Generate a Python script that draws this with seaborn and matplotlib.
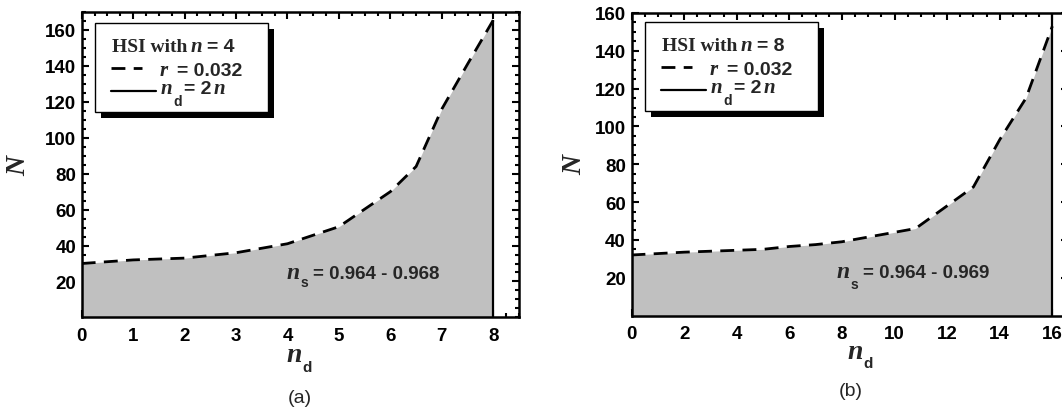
import matplotlib
matplotlib.use("Agg")
import matplotlib.pyplot as plt
import seaborn as sns
import pandas as pd
from matplotlib.ticker import MultipleLocator
from matplotlib.patches import Rectangle
from matplotlib.lines import Line2D

# ---------------- data ----------------
nd_a = [0, 1, 2, 3, 4, 5, 6, 6.5, 7, 7.5, 8]
N_a = [30, 32, 33, 36, 41, 50.5, 70, 84, 116, 141, 165.5]

nd_b = [0, 2, 4, 5, 6, 7, 8, 9, 10, 10.8, 12, 13, 14, 15, 16]
N_b = [32, 33.5, 34.5, 35, 36.5, 37.5, 39, 41.5, 44, 46, 58, 68, 93, 115, 153]

n_values = [4, 8]
r_value = "0.032"
ns_ranges = ["0.964 - 0.968", "0.964 - 0.969"]
panel_labels = ["(a)", "(b)"]
yticks = [20, 40, 60, 80, 100, 120, 140, 160]

# ---------------- style ----------------
sns.set_theme(style="ticks")
plt.rcParams.update({
    "font.family": ["Liberation Sans", "DejaVu Sans"],
    "font.weight": "bold",
    "font.size": 13,
    "axes.linewidth": 1.8,
    "axes.edgecolor": "black",
    "axes.facecolor": "white",
    "figure.facecolor": "white",
    "xtick.color": "black",
    "ytick.color": "black",
})

W, H = 1062, 410
fig = plt.figure(figsize=(W / 100, H / 100), dpi=100)


def fx(px):
    return px / W


def fy(py):
    return 1 - py / H


axL = fig.add_axes([fx(81.7), fy(318.4), 437.3 / W, 305.4 / H])
axR = fig.add_axes([fx(631.5), fy(316.5), 436.6 / W, 302.5 / H])

SANS = dict(family="Liberation Sans", weight="bold")
SERIF_B = dict(family="Liberation Serif", weight="bold")
SERIF_BI = dict(family="Liberation Serif", weight="bold", style="italic")

renderer = fig.canvas.get_renderer()


def rich(x, y, parts, ha="left"):
    """parts: (text, props, size, dy_px, gap_px); x,y in image pixels (baseline)."""
    items = []
    total = 0
    for s, props, size, dy, gap in parts:
        t = fig.text(0, 0, s, ha="left", va="baseline", fontsize=size,
                     zorder=8, **props)
        w = t.get_window_extent(renderer).width
        items.append((t, w, dy, gap))
        total += w + gap
    cur = x - total / 2 if ha == "center" else x
    for t, w, dy, gap in items:
        cur += gap
        t.set_position((fx(cur), fy(y + dy)))
        cur += w


panels = [
    dict(ax=axL, nd=nd_a, N=N_a, n=n_values[0], xlim=8.5, ylim=170,
         xmaj=1, xmin=0.25, vline_top=N_a[-1], ns=ns_ranges[0],
         box=(95, 24.3), ylab_x=19, ns_pos=(286.7, 279.3, 8),
         xlab=(299, 362, 10), plab=(300, 403)),
    dict(ax=axR, nd=nd_b, N=N_b, n=n_values[1], xlim=16.6, ylim=160,
         xmaj=2, xmin=0.5, vline_top=160, ns=ns_ranges[1],
         box=(645, 23.3), ylab_x=575, ns_pos=(836.7, 278.3, 11),
         xlab=(860, 359, 9), plab=(851, 396)),
]

for i, p in enumerate(panels):
    ax = p["ax"]
    df = pd.DataFrame({"nd": p["nd"], "N": p["N"]})
    ax.fill_between(df["nd"], df["N"], 0, color="#c0c0c0", lw=0, zorder=1)
    sns.lineplot(data=df, x="nd", y="N", ax=ax, color="black", lw=2.0,
                 linestyle=(0, (5, 3)), zorder=3, sort=False)
    nd_max = 2 * p["n"]
    ax.vlines(nd_max, 0, p["vline_top"], color="black", lw=1.6, zorder=4)

    ax.set_xlim(0, p["xlim"])
    ax.set_ylim(0, p["ylim"])
    ax.set_xticks(list(range(0, nd_max + 1, p["xmaj"])))
    ax.xaxis.set_minor_locator(MultipleLocator(p["xmin"]))
    ax.set_yticks(yticks)
    ax.yaxis.set_minor_locator(MultipleLocator(5))
    ax.tick_params(which="both", direction="in", top=True, right=True,
                   width=1.5, colors="black")
    ax.tick_params(which="major", length=5)
    ax.tick_params(which="minor", length=3)
    ax.tick_params(axis="x", which="major", pad=7, labelsize=13.5)
    ax.tick_params(axis="y", which="major", pad=4, labelsize=13.5)
    for lab in ax.get_xticklabels() + ax.get_yticklabels():
        lab.set_fontweight("bold")
    ax.set_xlabel("")
    ax.set_ylabel("N", fontsize=20, va="center", **SERIF_BI)
    bb = ax.get_position()
    ax.yaxis.set_label_coords((p["ylab_x"] / W - bb.x0) / bb.width, 0.5)
    for s in ax.spines.values():
        s.set_linewidth(1.8)
        s.set_color("black")

    # annotation n_s = ...
    x0, y0, sdy = p["ns_pos"]
    rich(x0, y0, [("n", SERIF_BI, 17, 0, 0),
                  ("s", SANS, 10, sdy, 1),
                  ("= " + p["ns"], SANS, 13.5, 0, 4)])

    # x label n_d
    xc, yb, ddy = p["xlab"]
    rich(xc, yb, [("n", SERIF_BI, 20, 0, 0), ("d", SANS, 11, ddy, 1)], ha="center")

    # panel label
    fig.text(fx(p["plab"][0]), fy(p["plab"][1]), panel_labels[i], ha="center",
             va="baseline", fontsize=14, family="Liberation Sans", weight="normal")

    # legend box with shadow
    bx, by = p["box"]
    bw, bh = 172.5, 89
    fig.add_artist(Rectangle((fx(bx + 6), fy(by + bh + 6)), bw / W, bh / H,
                             transform=fig.transFigure, facecolor="black",
                             edgecolor="black", lw=0, zorder=5))
    fig.add_artist(Rectangle((fx(bx), fy(by + bh)), bw / W, bh / H,
                             transform=fig.transFigure, facecolor="white",
                             edgecolor="black", lw=1.0, zorder=6))
    fig.add_artist(Line2D([fx(bx + 16), fx(bx + 47)], [fy(by + 44.7)] * 2,
                          transform=fig.transFigure, color="black", lw=2.0,
                          linestyle=(0, (5, 3)), zorder=7))
    fig.add_artist(Line2D([fx(bx + 16), fx(bx + 61)], [fy(by + 67.4)] * 2,
                          transform=fig.transFigure, color="black", lw=1.6,
                          zorder=7))
    rich(bx + 16.7, by + 27.4, [("HSI with", SERIF_B, 14, 0, 0),
                                ("n", SERIF_BI, 15, 0, 4),
                                ("= %d" % p["n"], SANS, 14, 0, 4)])
    rich(bx + 65, by + 51.7, [("r", SERIF_BI, 15, 0, 0),
                              ("= " + r_value, SANS, 14, 0, 9)])
    rich(bx + 66, by + 70, [("n", SERIF_BI, 15, 0, 0),
                            ("d", SANS, 10, 12, 1),
                            ("= 2", SANS, 14, 0, 2),
                            ("n", SERIF_BI, 15, 0, 2)])

fig.savefig("out.png", dpi=100)
